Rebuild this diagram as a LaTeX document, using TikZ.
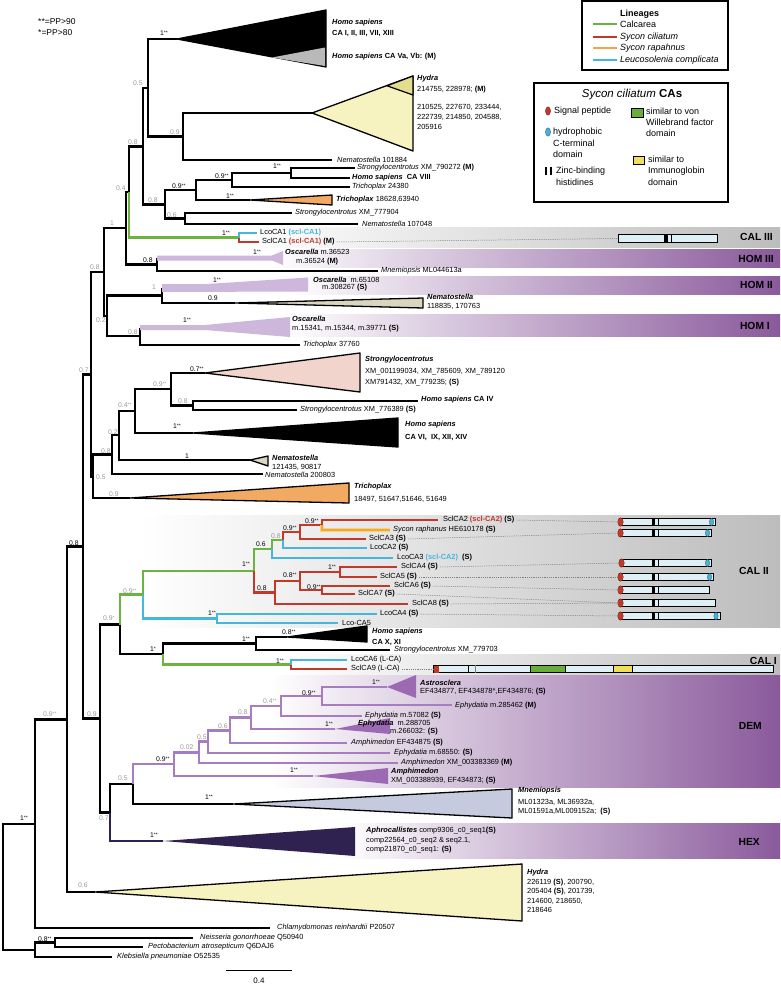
\documentclass[tikz,border=0pt]{standalone}
\usepackage{fontspec}
\setmainfont{Liberation Sans}
\definecolor{sgreen}{HTML}{6CB33F}
\definecolor{sred}{HTML}{C0392B}
\definecolor{sorange}{HTML}{EFA646}
\definecolor{syellow}{HTML}{F7D56A}
\definecolor{scyan}{HTML}{45B6DD}
\definecolor{supg}{HTML}{9A9A9A}
\definecolor{dpur}{HTML}{A67DC0}
\definecolor{dtri}{HTML}{9B6AB3}
\definecolor{hexp}{HTML}{2F2150}
\definecolor{hlp}{HTML}{CDB8DC}
\definecolor{bandp}{HTML}{8A5A9C}
\definecolor{bandg}{HTML}{BDBDBD}
\definecolor{hyel}{HTML}{F7F3C0}
\definecolor{hyel2}{HTML}{E4DC8E}
\definecolor{torange}{HTML}{F2AA62}
\definecolor{spink}{HTML}{F1D4CC}
\definecolor{beige}{HTML}{D9D6BD}
\definecolor{mnblue}{HTML}{C5CADF}
\definecolor{barfill}{HTML}{DDF0F6}
\definecolor{hblue}{HTML}{4AAFD5}
\definecolor{dgreen}{HTML}{6AAE3A}
\definecolor{dyel}{HTML}{F1DF5A}
\newcommand\lf{\fontsize{7.4}{8.5}\selectfont}
\newcommand\svf{\fontsize{6.8}{8}\selectfont}
\newcommand\bi[1]{\textbf{\textit{#1}}}
\newcommand\st[1]{\raisebox{1pt}{\fontsize{5}{5}\selectfont #1}}
\newcommand\supv[3]{\node[sv] at (#1,#2) {#3};}
\newcommand\supg[3]{\node[sv,text=supg] at (#1,#2) {#3};}
\newcommand\zinc[2]{\fill (#1,#2-3.6) rectangle (#1+3,#2+3.6); \fill (#1+6.6,#2-3.6) rectangle (#1+7.8,#2+3.6);}
\newcommand\sigp[2]{\filldraw[fill=sred, draw=sred!60!black, line width=0.3pt] (#1,#2) ellipse (2.8 and 4.3);}
\newcommand\hydro[2]{\filldraw[fill=hblue, draw=hblue!60!black, line width=0.3pt] (#1,#2) ellipse (2.2 and 3.5);}
\begin{document}
\begin{tikzpicture}[x=1pt,y=-1pt,
  br/.style={line width=2.5pt},
  lab/.style={anchor=west, inner sep=0pt, font=\lf},
  sv/.style={anchor=west, inner sep=0pt, font=\svf},
  tri/.style={draw=black, line width=1.3pt, line join=round},
  pbar/.style={draw, line width=0.9pt, fill=barfill, minimum height=7.5pt, inner sep=0pt, anchor=west},
  dotl/.style={draw=gray, line width=0.5pt, dash pattern=on 1.2pt off 1pt},
  bandlab/.style={anchor=east, inner sep=0pt, font=\fontsize{10.3}{12}\selectfont\bfseries},
  leg/.style={anchor=west, inner sep=0pt, font=\fontsize{9}{10}\selectfont}]
\useasboundingbox (0,0) rectangle (780,985);
\fill[white] (0,0) rectangle (780,985);

% ---------- background bands
\shade[left color=white, right color=bandg] (240,227) rectangle (780,247);
\shade[left color=white, right color=bandp] (270,249) rectangle (780,267);
\shade[left color=white, right color=bandp] (290,276) rectangle (780,294);
\shade[left color=white, right color=bandp] (285,314) rectangle (780,336);
\shade[left color=white, right color=bandg] (140,515) rectangle (780,627);
\shade[left color=white, right color=bandg] (285,654) rectangle (780,675);
\shade[left color=white, right color=bandp] (270,675) rectangle (780,787);
\shade[left color=white, right color=bandp] (340,823) rectangle (780,858);
\node[bandlab] at (773,237) {CAL III};
\node[bandlab] at (774,259) {HOM III};
\node[bandlab] at (773,285) {HOM II};
\node[bandlab] at (770,326) {HOM I};
\node[bandlab] at (769,571) {CAL II};
\node[bandlab] at (777,661) {CAL I};
\node[bandlab] at (762,726) {DEM};
\node[bandlab] at (760,842) {HEX};

% ---------- coordinates (top part)
\coordinate (hsT) at (177,39);
\coordinate (n148) at (148,87.75);
\coordinate (hydT) at (312,113);
\coordinate (lNem1) at (332,160);
\coordinate (n183) at (183,136.5);
\coordinate (n143) at (143,146.5);
\coordinate (nE) at (165,204.5);
\coordinate (nD) at (196,190);
\coordinate (n232) at (232,180);
\coordinate (n291) at (291,173);
\coordinate (lSu1) at (355,168);
\coordinate (lHs8) at (350,178);
\coordinate (lTr1) at (350,187);
\coordinate (trT) at (250,200);
\coordinate (nF) at (185,218.5);
\coordinate (lSu2) at (292,213);
\coordinate (lNem2) at (358,224);
\coordinate (nC1) at (129,192);
\coordinate (n239) at (239,237.5);
\coordinate (lLco1) at (257,233);
\coordinate (lScl1) at (259,242);
\coordinate (nC2) at (126,228);
\coordinate (n157) at (157,264.5);
\coordinate (h3) at (157,258);
\coordinate (lMn1) at (378,271);
\coordinate (nB) at (104,272);
\coordinate (n107) at (107,315.75);
\coordinate (n162) at (162,295.5);
\coordinate (h2) at (162,288);
\coordinate (nemT) at (235,303);
\coordinate (n140) at (140,336);
\coordinate (h1) at (140,327.5);
\coordinate (lTr2) at (300,345);
\coordinate (n91) at (91,374.5);
\coordinate (n93) at (93,477);
\coordinate (n112) at (112,454.5);
\coordinate (n119) at (119,435);
\coordinate (n135) at (135,411);
\coordinate (n171) at (171,389);
\coordinate (suT) at (205,373);
\coordinate (n193) at (193,405.5);
\coordinate (lHs4) at (418,401);
\coordinate (lSu3) at (297,410);
\coordinate (hs6T) at (193,433);
\coordinate (nemT2) at (250,460);
\coordinate (lNem3) at (263,474);
\coordinate (orT) at (130,498);
% middle
\coordinate (n83) at (83,546.5);
\coordinate (n100) at (100,718.5);
\coordinate (n120) at (120,624.5);
\coordinate (n143g) at (143,594.5);
\coordinate (n254) at (254,571);
\coordinate (n272) at (272,549);
\coordinate (n283) at (283,540);
\coordinate (n300) at (300,532);
\coordinate (n322) at (322,525);
\coordinate (lScl2) at (438,520);
\coordinate (lSrap) at (390,530);
\coordinate (lScl3) at (366,539);
\coordinate (lLco2) at (367,548);
\coordinate (lLco3) at (393,558);
\coordinate (n275) at (275,592.5);
\coordinate (n300b) at (300,581);
\coordinate (n340) at (340,572);
\coordinate (lScl4) at (397,567);
\coordinate (lScl5) at (377,577);
\coordinate (n322b) at (322,590);
\coordinate (lScl6) at (390,586);
\coordinate (lScl7) at (355,594);
\coordinate (lScl8) at (408,604);
\coordinate (n217) at (217,618.5);
\coordinate (lLco4) at (377,614);
\coordinate (lLco5) at (338,623);
\coordinate (n163) at (163,654);
\coordinate (n256) at (256,643.5);
\coordinate (hsXT) at (287,637);
\coordinate (lSu4) at (390,650);
\coordinate (n291b) at (291,664.5);
\coordinate (lLco6) at (347,660);
\coordinate (lScl9) at (347,669);
% DEM / HEX
\coordinate (n110) at (110,812.5);
\coordinate (n133) at (133,784);
\coordinate (hexT) at (163,841);
\coordinate (n174) at (174,764);
\coordinate (mnT) at (233,804);
\coordinate (n199) at (199,752.3);
\coordinate (amT) at (313,776);
\coordinate (n208) at (208,741.6);
\coordinate (lAmXM) at (398,763);
\coordinate (n230) at (230,730.3);
\coordinate (lEph68) at (390,753);
\coordinate (n251) at (251,717.5);
\coordinate (lAmEF) at (347,743);
\coordinate (n281) at (281,706);
\coordinate (ephT) at (335,729);
\coordinate (n322c) at (322,696);
\coordinate (lEph57) at (362,716);
\coordinate (asT) at (387,687);
\coordinate (lEph285) at (452,705);
% bottom
\coordinate (n67) at (67,719.5);
\coordinate (hyT) at (95,892);
\coordinate (n35) at (35,824);
\coordinate (lChl) at (270,928);
\coordinate (root) at (3,887);
\coordinate (n35b) at (35,950);
\coordinate (n55) at (55,942.5);
\coordinate (lNei) at (193,938);
\coordinate (lPec) at (143,947);
\coordinate (lKle) at (112,957);

% ---------- branches
\draw[br] (n148) |- (hsT) (n148) |- (n183) (n183) |- (hydT) (n183) |- (lNem1)
  (n143) |- (n148) (n143) |- (nE) (nE) |- (nD) (nE) |- (nF) (nD) |- (n232) (nD) |- (trT)
  (n232) |- (n291) (n232) |- (lTr1) (n291) |- (lSu1) (n291) |- (lHs8) (nF) |- (lSu2) (nF) |- (lNem2)
  (nC1) |- (n143) (nC2) |- (nC1) (nC2) |- (n157) (n157) |- (h3) (n157) |- (lMn1)
  (nB) |- (nC2) (nB) |- (n107) (n107) |- (n162) (n107) |- (n140) (n162) |- (h2) (n162) |- (nemT)
  (n140) |- (h1) (n140) |- (lTr2)
  (n91) |- (nB) (n91) |- (n93) (n93) |- (n112) (n93) |- (orT) (n112) |- (n119) (n112) |- (lNem3)
  (n119) |- (n135) (n119) |- (nemT2) (n135) |- (n171) (n135) |- (hs6T) (n171) |- (suT) (n171) |- (n193)
  (n193) |- (lHs4) (n193) |- (lSu3)
  (n83) |- (n91) (n83) |- (n100) (n100) |- (n120) (n100) |- (n110) (n120) |- (n163)
  (n163) |- (n256) (n256) |- (hsXT) (n256) |- (lSu4) (n110) |- (n133) (n133) |- (mnT)
  (n67) |- (n83) (n67) |- (hyT) (n35) |- (n67) (n35) |- (lChl) (root) |- (n35) (root) |- (n35b)
  (n35b) |- (n55) (n35b) |- (lKle) (n55) |- (lNei) (n55) |- (lPec);
\draw[br,sgreen] (nC1) |- (n239) (n120) |- (n143g) (n143g) |- (n254) (n254) |- (n272) (n272) |- (n283) (n163) |- (n291b);
\draw[br,scyan] (n239) |- (lLco1) (n143g) |- (n217) (n272) |- (lLco3) (n283) |- (lLco2)
  (n217) |- (lLco4) (n217) |- (lLco5) (n291b) |- (lLco6);
\draw[br,sred] (n239) |- (lScl1) (n254) |- (n275) (n283) |- (n300) (n300) |- (n322) (n300) |- (lScl3)
  (n322) |- (lScl2) (n275) |- (n300b) (n275) |- (lScl8) (n300b) |- (n340) (n300b) |- (n322b)
  (n340) |- (lScl4) (n340) |- (lScl5) (n322b) |- (lScl6) (n322b) |- (lScl7) (n291b) |- (lScl9);
\draw[line width=3.6pt, syellow] (n322) |- (lSrap);
\draw[br,sorange] (n322) |- (lSrap);
\draw[br,dpur] (n133) |- (n174) (n174) |- (n199) (n174) |- (amT) (n199) |- (n208) (n199) |- (lAmXM)
  (n208) |- (n230) (n208) |- (lEph68) (n230) |- (n251) (n230) |- (lAmEF) (n251) |- (n281) (n251) |- (ephT)
  (n281) |- (n322c) (n281) |- (lEph57) (n322c) |- (asT) (n322c) |- (lEph285);
\draw[br,hexp] (n110) |- (hexT);

% ---------- collapsed clades
\filldraw[tri, fill=black] (hsT) -- (326,10) -- (326,67) -- cycle;
\fill[gray!55] (272,57.5) -- (325,47.5) -- (325,66) -- cycle;
\filldraw[tri, fill=hyel] (hydT) -- (413,76) -- (413,151) -- cycle;
\filldraw[fill=hyel2, line width=1.2pt, line join=round] (387,85.8) -- (413,76) -- (413,95) -- cycle;
\filldraw[tri, fill=torange] (trT) -- (332,195) -- (332,205) -- cycle;
\fill[hlp] (157,255.5) -- (272,255.5) -- (283,251) -- (283,265) -- (272,260.5) -- (157,260.5) -- cycle;
\fill[hlp] (162,284) -- (207,284) -- (308,277.5) -- (308,291.5) -- (162,292) -- cycle;
\fill[hlp] (140,325) -- (205,325) -- (290,317) -- (290,337) -- (205,330) -- (140,330) -- cycle;
\filldraw[tri, fill=beige] (nemT) -- (423,298) -- (423,308) -- cycle;
\filldraw[tri, fill=spink] (suT) -- (360,353) -- (360,392) -- cycle;
\filldraw[tri, fill=black] (hs6T) -- (398,418) -- (398,447) -- cycle;
\filldraw[tri, fill=beige] (nemT2) -- (268,456) -- (268,466) -- cycle;
\filldraw[tri, fill=torange] (orT) -- (349,483) -- (349,503) -- cycle;
\filldraw[tri, fill=black] (hsXT) -- (367,626) -- (367,642) -- cycle;
\fill[dtri] (asT) -- (416,675) -- (416,698) -- cycle;
\fill[dtri] (ephT) -- (390,718) -- (390,734) -- cycle;
\fill[dtri] (amT) -- (388,768) -- (388,784) -- cycle;
\filldraw[tri, fill=mnblue] (mnT) -- (512,789) -- (512,818) -- cycle;
\fill[hexp] (hexT) -- (355,827) -- (355,856) -- cycle;
\filldraw[tri, fill=hyel] (hyT) -- (522,864) -- (522,921) -- cycle;

% ---------- protein bars
\node[pbar, minimum width=99pt] (b1) at (618,238.5) {};
\fill (664,234.8) rectangle (668,242.2); \fill (671,234.8) rectangle (672.3,242.2);
\node[pbar, minimum width=96pt] (b2) at (619,522) {}; \zinc{651.5}{522} \sigp{620.5}{522} \hydro{711.5}{522}
\node[pbar, minimum width=92pt] (b3) at (619,533) {}; \zinc{651.5}{533} \sigp{620.5}{533} \hydro{707.5}{533}
\node[pbar, minimum width=91pt] (b4) at (620,563) {}; \zinc{651.5}{563} \sigp{621.5}{563} \hydro{707.5}{563}
\node[pbar, minimum width=94pt] (b5) at (619,577) {}; \zinc{651.5}{577} \sigp{620.5}{577} \hydro{709.5}{577}
\node[pbar, minimum width=90pt] (b6) at (619,590) {}; \zinc{651.5}{590} \sigp{620.5}{590}
\node[pbar, minimum width=96pt] (b7) at (619,603) {}; \zinc{651.5}{603} \sigp{620.5}{603}
\node[pbar, minimum width=101pt] (b8) at (619,616) {}; \zinc{651.5}{616} \sigp{620.5}{616} \hydro{716}{616}
\node[pbar, minimum width=340pt] (b9) at (433,669) {};
\fill[sred] (433.5,665.5) rectangle (439,672.5);
\draw[line width=0.9pt] (468.5,665) -- (468.5,673);
\draw[line width=0.6pt, gray] (475,665) -- (475,673);
\filldraw[fill=dgreen, line width=0.9pt] (530,665.25) rectangle (565,672.75);
\filldraw[fill=dyel, line width=0.9pt] (613,665.25) rectangle (632,672.75);

% ---------- leaf labels
\node[lab] at (332,23) {\bi{Homo sapiens}};
\node[lab] at (332,33) {\textbf{CA I, II, III, VII, XIII}};
\node[lab] at (332,57) {\bi{Homo sapiens} \textbf{CA Va, Vb: (M)}};
\node[lab] at (417,79) {\bi{Hydra}};
\node[lab] at (417,90) {214755, 228978; \textbf{(M)}};
\node[lab] at (417,107) {210525, 227670, 233444,};
\node[lab] at (417,117) {222739, 214850, 204588,};
\node[lab] at (417,127) {205916};
\node[lab] at (337,160) {\textit{Nematostella} 101884};
\node[lab] at (357,168) {\textit{Strongylocentrotus} XM\_790272 \textbf{(M)}};
\node[lab] at (352,178) {\bi{Homo sapiens}\ \ \textbf{CA VIII}};
\node[lab] at (352,187) {\textit{Trichoplax} 24380};
\node[lab] at (336,200) {\bi{Trichoplax} 18628,63940};
\node[lab] at (295,213) {\textit{Strongylocentrotus} XM\_777904};
\node[lab] at (362,224) {\textit{Nematostella} 107048};
\node[lab] (tLco1) at (260,233) {LcoCA1 \textcolor{scyan}{\textbf{(scl-CA1)}}};
\node[lab] (tScl1) at (262,242) {SclCA1 \textcolor{sred}{\textbf{(scl-CA1)}} \textbf{(M)}};
\node[lab] at (285,252) {\bi{Oscarella} m.36523};
\node[lab] at (296,262) {m.36524 \textbf{(M)}};
\node[lab] at (381,271) {\textit{Mnemiopsis} ML044613a};
\node[lab] at (313,280) {\bi{Oscarella}\ \ m.65108};
\node[lab] at (322,288) {m.308267 \textbf{(S)}};
\node[lab] at (427,297) {\bi{Nematostella}};
\node[lab] at (427,306) {118835, 170763};
\node[lab] at (292,319) {\bi{Oscarella}};
\node[lab] at (292,329) {m.15341, m.15344, m.39771 \textbf{(S)}};
\node[lab] at (303,345) {\textit{Trichoplax} 37760};
\node[lab] at (365,360) {\bi{Strongylocentrotus}};
\node[lab] at (365,372) {XM\_001199034, XM\_785609, XM\_789120};
\node[lab] at (365,383) {XM791432, XM\_779235; \textbf{(S)}};
\node[lab] at (421,400) {\bi{Homo sapiens} \textbf{CA IV}};
\node[lab] at (300,410) {\textit{Strongylocentrotus} XM\_776389 \textbf{(S)}};
\node[lab] at (405,425) {\bi{Homo sapiens}};
\node[lab] at (405,437) {\textbf{CA VI,\ \ IX, XII, XIV}};
\node[lab] at (272,458) {\bi{Nematostella}};
\node[lab] at (272,467) {121435, 90817};
\node[lab] at (265,475) {\textit{Nematostella} 200803};
\node[lab] at (354,487) {\bi{Trichoplax}};
\node[lab] at (354,499) {18497, 51647,51646, 51649};
\node[lab] (tScl2) at (443,520) {SclCA2 \textcolor{sred}{\textbf{(scl-CA2)}} \textbf{(S)}};
\node[lab] at (393,530) {\textit{Sycon raphanus} HE610178 \textbf{(S)}};
\node[lab] (tScl3) at (369,539) {SclCA3 \textbf{(S)}};
\node[lab] at (370,548) {LcoCA2 \textbf{(S)}};
\node[lab] at (397,558) {LcoCA3 \textcolor{scyan}{\textbf{(scl-CA2)}}\ \ \textbf{(S)}};
\node[lab] (tScl4) at (401,567) {SclCA4 \textbf{(S)}};
\node[lab] (tScl5) at (380,577) {SclCA5 \textbf{(S)}};
\node[lab] (tScl6) at (394,586) {SclCA6 \textbf{(S)}};
\node[lab] (tScl7) at (358,594) {SclCA7 \textbf{(S)}};
\node[lab] (tScl8) at (412,604) {SclCA8 \textbf{(S)}};
\node[lab] (tLco4) at (380,614) {LcoCA4 \textbf{(S)}};
\node[lab] at (342,623) {Lco-CA5};
\node[lab] at (372,632) {\bi{Homo sapiens}};
\node[lab] at (372,642) {\textbf{CA X, XI}};
\node[lab] at (394,650) {\textit{Strongylocentrotus} XM\_779703};
\node[lab] at (351,660) {LcoCA6 (L-CA)};
\node[lab] (tScl9) at (351,669) {SclCA9 (L-CA)};
\node[lab] at (420,683) {\bi{Astrosclera}};
\node[lab] at (420,692) {EF434877, EF434878*,EF434876; \textbf{(S)}};
\node[lab] at (455,706) {\textit{Ephydatia} m.285462 \textbf{(M)}};
\node[lab] at (365,716) {\textit{Ephydatia} m.57082 \textbf{(S)}};
\node[lab] at (358,724) {\bi{Ephydatia}\ \ m.288705};
\node[lab] at (390,732) {m.266032: \textbf{(S)}};
\node[lab] at (351,743) {\textit{Amphimedon} EF434875 \textbf{(S)}};
\node[lab] at (394,753) {\textit{Ephydatia} m.68550: \textbf{(S)}};
\node[lab] at (401,763) {\textit{Amphimedon} XM\_003383369 \textbf{(M)}};
\node[lab] at (391,772) {\bi{Amphimedon}};
\node[lab] at (391,781) {XM\_003388939, EF434873; \textbf{(S)}};
\node[lab] at (518,791) {\bi{Mnemiopsis}};
\node[lab] at (518,802) {ML01323a, ML36932a,};
\node[lab] at (518,812) {ML01591a,ML009152a;\ \ \textbf{(S)}};
\node[lab] at (366,831) {\bi{Aphrocallistes} comp9306\_c0\_seq1\textbf{(S)}};
\node[lab] at (366,841) {comp22564\_c0\_seq2 \& seq2.1,};
\node[lab] at (366,850) {comp21870\_c0\_seq1: \textbf{(S)}};
\node[lab] at (527,873) {\bi{Hydra}};
\node[lab] at (527,883) {226119 \textbf{(S)}, 200790,};
\node[lab] at (527,892) {205404 \textbf{(S)}, 201739,};
\node[lab] at (527,901) {214600, 218650,};
\node[lab] at (527,910) {218646};
\node[lab] at (277,928) {\textit{Chlamydomonas reinhardtii} P20507};
\node[lab] at (200,938) {\textit{Neisseria gonorrhoeae} Q50940};
\node[lab] at (148,947) {\textit{Pectobacterium atrosepticum} Q6DAJ6};
\node[lab] at (117,957) {\textit{Klebsiella pneumoniae} O52535};

% ---------- dotted connectors
\draw[dotl] ([xshift=2pt]tScl1.east) -- (b1.west);
\draw[dotl] ([xshift=2pt]tScl2.east) -- (b2.west);
\draw[dotl] ([xshift=2pt]tScl3.east) -- (b3.west);
\draw[dotl] ([xshift=2pt]tScl4.east) -- (b4.west);
\draw[dotl] ([xshift=2pt]tScl5.east) -- (b5.west);
\draw[dotl] ([xshift=2pt]tScl6.east) -- (b6.west);
\draw[dotl] ([xshift=2pt]tScl7.east) -- (b7.west);
\draw[dotl] ([xshift=2pt]tScl8.east) -- (b7.west);
\draw[dotl] ([xshift=2pt]tLco4.east) -- (b8.west);
\draw[dotl] ([xshift=2pt]tScl9.east) -- (b9.west);

% ---------- support values
\supv{160}{33}{1\st{**}}
\supg{133}{83}{0.5}
\supg{170}{132}{0.9}
\supg{128}{142}{0.8}
\supv{215}{176}{0.9\st{**}}
\supv{172}{186}{0.9\st{**}}
\supv{226}{196}{1\st{**}}
\supv{273}{166}{1\st{**}}
\supg{148}{200}{0.8}
\supg{167}{215}{0.6}
\supg{116}{188}{0.4}
\supg{110}{223}{1}
\supv{222}{233}{1\st{**}}
\supv{143}{260}{0.8}
\supv{253}{252}{1\st{**}}
\supg{152}{287}{1}
\supv{213}{280}{1\st{**}}
\supv{208}{298}{0.9}
\supg{96}{320}{0.2}
\supg{128}{332}{0.8}
\supv{183}{320}{1\st{**}}
\supg{90}{267}{0.8}
\supg{79}{370}{0.7}
\supv{190}{369}{0.7\st{**}}
\supg{153}{384}{0.9\st{**}}
\supg{178}{401}{0.8}
\supg{118}{405}{0.4\st{**}}
\supv{173}{426}{1\st{**}}
\supg{108}{432}{0.2}
\supg{101}{451}{0.8}
\supv{185}{456}{1}
\supg{96}{477}{0.5}
\supg{109}{494}{0.9}
\supv{69}{543}{0.8}
\supv{305}{521}{0.9\st{**}}
\supv{283}{528}{0.9\st{**}}
\supg{271}{536}{0.8}
\supv{256}{544}{0.6}
\supv{242}{564}{1\st{**}}
\supv{257}{588}{0.8}
\supv{283}{575}{0.8\st{**}}
\supv{328}{567}{1\st{**}}
\supv{307}{587}{0.9\st{**}}
\supg{123}{591}{0.9\st{**}}
\supg{103}{618}{0.9\st{*}}
\supv{208}{613}{1\st{**}}
\supv{242}{639}{1\st{**}}
\supv{282}{632}{0.8\st{**}}
\supv{150}{649}{1\st{*}}
\supv{276}{661}{1\st{**}}
\supv{302}{693}{0.9\st{**}}
\supv{372}{682}{1\st{**}}
\supg{263}{701}{0.4\st{**}}
\supg{238}{712}{0.8}
\supg{218}{726}{0.6}
\supg{197}{737}{0.5}
\supg{180}{747}{0.02}
\supv{156}{759}{0.9\st{**}}
\supg{118}{778}{0.5}
\supv{205}{797}{1\st{**}}
\supg{99}{818}{0.7}
\supv{150}{835}{1\st{**}}
\supg{87}{714}{0.9}
\supg{43}{714}{0.9\st{**}}
\supv{20}{818}{1\st{**}}
\supv{325}{724}{1\st{**}}
\supv{290}{770}{1\st{**}}
\supg{78}{885}{0.6}
\supv{38}{939}{0.8\st{**}}

% ---------- scale bar
\draw[line width=1pt] (226,970) -- (292,970);
\node[font=\fontsize{8}{9}\selectfont] at (259,981) {0.4};

% ---------- PP legend
\node[anchor=west, inner sep=0pt, font=\fontsize{8.5}{10}\selectfont] at (38,22) {**=PP>90};
\node[anchor=west, inner sep=0pt, font=\fontsize{8.5}{10}\selectfont] at (38,33) {*=PP>80};

% ---------- Lineages legend
\draw[line width=1.5pt] (582,1) rectangle (728,70);
\node[anchor=west, inner sep=0pt, font=\fontsize{9}{10}\selectfont\bfseries] at (620,14) {Lineages};
\draw[line width=2pt, sgreen] (593,24) -- (617,24);
\node[leg] at (620,24) {Calcarea};
\draw[line width=2pt, sred] (593,37) -- (617,37);
\node[leg] at (620,37) {\textit{Sycon ciliatum}};
\draw[line width=2.6pt, syellow] (593,48) -- (617,48);
\draw[line width=1.2pt, sorange] (593,48) -- (617,48);
\node[leg] at (620,48) {\textit{Sycon rapahnus}};
\draw[line width=2pt, scyan] (593,60) -- (617,60);
\node[leg] at (620,60) {\textit{Leucosolenia complicata}};

% ---------- CA legend
\draw[line width=1.5pt] (534,83) rectangle (728,202);
\node[font=\fontsize{11.5}{13}\selectfont] at (632,95) {\textit{Sycon ciliatum} \textbf{CAs}};
\filldraw[fill=sred, draw=sred!60!black, line width=0.4pt] (548,111) ellipse (2.5 and 4.2);
\node[leg] at (554,111) {Signal peptide};
\filldraw[fill=hblue, draw=hblue!60!black, line width=0.4pt] (548,132) ellipse (2.5 and 4.2);
\node[leg] at (553,132) {hydrophobic};
\node[leg] at (553,143) {C-terminal};
\node[leg] at (553,154) {domain};
\fill (545,167) rectangle (547.3,174.5);
\fill (550,167) rectangle (552.3,174.5);
\node[leg] at (556,171) {Zinc-binding};
\node[leg] at (556,182) {histidines};
\filldraw[fill=dgreen, line width=1pt] (631,108) rectangle (643,117);
\node[leg] at (646,111) {similar to von};
\node[leg] at (646,122) {Willebrand factor};
\node[leg] at (646,133) {domain};
\filldraw[fill=dyel, line width=1pt] (633,156) rectangle (644,164);
\node[leg] at (648,159) {similar to};
\node[leg] at (648,171) {Immunoglobin};
\node[leg] at (648,182) {domain};
\end{tikzpicture}
\end{document}
